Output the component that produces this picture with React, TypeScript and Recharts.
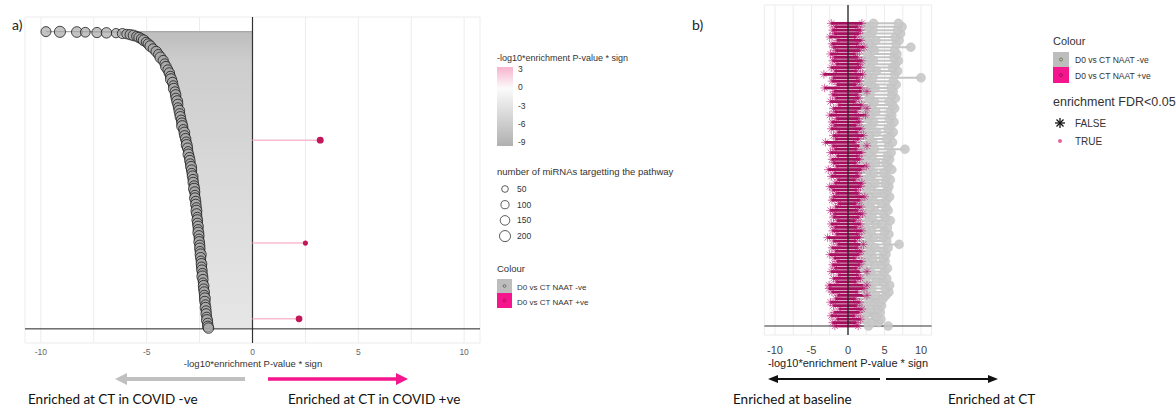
import React from 'react'
import {
  ComposedChart, ScatterChart, Area, Scatter, XAxis, YAxis, ZAxis,
  CartesianGrid, ReferenceLine, ErrorBar,
} from 'recharts'

// panel a: pathways ranked by enrichment (D0 vs CT NAAT -ve)
const rankA = [
  294.5, 294.3, 294.1, 293.9, 293.6, 293.3, 293.0, 292.6, 292.1, 291.5,
  290.7, 289.8, 288.7, 287.4, 285.9, 284.2, 282.3, 280.2, 277.6, 274.8,
  271.9, 268.9, 265.9, 262.8, 259.7, 256.6, 253.5, 250.4, 247.3, 244.2,
  241.1, 238.0, 234.9, 231.8, 228.7, 225.6, 222.5, 219.4, 216.3, 213.2,
  210.1, 207.0, 203.9, 200.8, 197.7, 194.6, 191.5, 188.4, 185.3, 182.2,
  179.1, 176.0, 172.9, 169.8, 166.7, 163.6, 160.5, 157.4, 154.3, 151.2,
  148.1, 145.0, 141.9, 138.8, 135.7, 132.6, 129.5, 126.4, 123.3, 120.2,
  117.1, 114.0, 110.9, 107.8, 104.7, 101.6, 98.5, 95.4, 92.3, 89.2,
  86.1, 83.0, 79.9, 76.8, 73.7, 70.6, 67.5, 64.4, 61.3, 58.2,
  55.1, 52.0, 48.9, 45.8, 42.7, 39.6, 36.5, 33.4, 30.3, 27.2,
  24.1, 21.0, 17.9, 14.8, 11.7, 8.6, 5.5, 2.4, 0.8,
]
const scoreA = [
  -9.76, -9.10, -8.30, -7.90, -7.35, -6.90, -6.45, -6.15, -5.95, -5.78,
  -5.62, -5.48, -5.36, -5.25, -5.14, -5.03, -4.93, -4.83, -4.70, -4.55,
  -4.44, -4.35, -4.22, -4.15, -4.09, -4.00, -3.93, -3.88, -3.85, -3.78,
  -3.74, -3.72, -3.66, -3.63, -3.62, -3.56, -3.53, -3.52, -3.46, -3.44,
  -3.41, -3.37, -3.34, -3.32, -3.27, -3.22, -3.21, -3.16, -3.13, -3.11,
  -3.07, -3.04, -3.03, -2.98, -2.96, -2.94, -2.90, -2.88, -2.87, -2.83,
  -2.81, -2.80, -2.76, -2.76, -2.73, -2.72, -2.72, -2.68, -2.68, -2.65,
  -2.65, -2.64, -2.61, -2.61, -2.60, -2.57, -2.57, -2.56, -2.53, -2.53,
  -2.52, -2.49, -2.49, -2.48, -2.45, -2.45, -2.44, -2.41, -2.41, -2.39,
  -2.37, -2.37, -2.34, -2.34, -2.31, -2.31, -2.28, -2.28, -2.25, -2.25,
  -2.22, -2.22, -2.19, -2.19, -2.16, -2.15, -2.12, -2.11, -2.08,
]
const mirnaA = [
  120, 170, 150, 110, 130, 140, 90, 120, 100, 130,
  150, 110, 140, 120, 160, 100, 130, 150, 110, 140,
  120, 160, 130, 100, 150, 120, 140, 110, 170, 130,
  100, 150, 120, 140, 110, 160, 130, 90, 150, 120,
  140, 110, 130, 170, 100, 150, 120, 140, 110, 160,
  130, 90, 150, 120, 140, 110, 160, 130, 100, 150,
  120, 140, 110, 170, 130, 100, 150, 120, 140, 110,
  160, 130, 90, 150, 120, 140, 110, 160, 130, 100,
  150, 120, 140, 110, 170, 130, 100, 150, 120, 140,
  110, 160, 130, 90, 150, 120, 140, 110, 160, 130,
  100, 150, 120, 140, 110, 170, 130, 150, 140,
]
// panel a: D0 vs CT NAAT +ve
const rankApos = [187, 85, 10]
const scoreApos = [3.2, 2.5, 2.2]
const mirnaApos = [60, 20, 55]

const ticksA = [-10, -7.5, -5, -2.5, 0, 2.5, 5, 7.5, 10]
const gridRankA = [0, 50, 100, 150, 200, 250, 300]

// panel b: one row per pathway, bottom to top
const greyOuterB = [
  5.5, 4.2, 4.5, 3.9, 4.4, 4.1, 4.6, 4.3, 4.8, 5.2,
  5.6, 5.1, 5.7, 4.9, 5.3, 4.6, 5.0, 5.4, 4.7, 5.1,
  4.8, 5.2, 4.9, 5.5, 7.0, 5.3, 4.8, 5.6, 5.0, 5.4,
  4.7, 5.8, 5.1, 4.9, 5.5, 5.2, 4.6, 5.3, 5.7, 5.0,
  5.4, 5.6, 5.1, 5.8, 5.3, 4.9, 6.0, 5.5, 5.2, 5.7,
  5.4, 5.9, 7.8, 5.6, 6.1, 5.3, 5.8, 6.2, 5.5, 5.9,
  6.3, 5.7, 6.0, 5.8, 6.4, 6.1, 5.7, 6.5, 6.0, 6.2,
  5.9, 6.6, 6.2, 10.0, 6.4, 6.8, 6.1, 6.5, 6.9, 6.3,
  6.7, 6.4, 8.6, 6.6, 7.0, 6.5, 7.2, 6.8, 7.4, 6.9,
]
const greyInnerB = [
  2.8, 3.4, 2.3, 3.7, 2.6, 3.1, 2.2, 3.5, 2.9, 3.8,
  2.5, 3.2, 2.7, 3.9, 2.4, 3.3, 3.0, 2.1, 3.6, 2.8,
  3.4, 2.6, 3.1, 3.7, 2.3, 3.0, 3.5, 2.7, 3.2, 2.4,
  3.8, 2.9, 3.3, 2.5, 3.6, 3.0, 2.2, 3.4, 2.8, 3.9,
  2.6, 3.2, 3.7, 2.4, 3.1, 3.5, 2.7, 3.0, 3.8, 2.5,
  3.3, 2.9, 3.6, 2.2, 3.4, 3.0, 2.8, 3.9, 2.6, 3.2,
  3.5, 2.7, 3.1, 3.8, 2.4, 3.3, 3.6, 2.9, 3.0, 2.5,
  3.7, 3.2, 2.8, 3.4, 2.6, 3.9, 3.1, 2.3, 3.5, 3.0,
  2.7, 3.6, 3.3, 2.9, 3.8, 2.5, 3.2, 3.4, 2.8, 3.5,
]
const pinkNegB = [
  -1.8, -2.1, -1.5, -2.3, -1.9, -1.2, -2.0, -2.4, -1.7, -1.4,
  -2.2, -2.6, -2.6, -1.6, -2.0, -1.3, -2.3, -1.8, -2.1, -1.5,
  -1.9, -2.5, -1.7, -2.2, -1.4, -2.0, -2.8, -1.6, -2.1, -1.8,
  -2.3, -1.5, -2.0, -1.9, -2.4, -1.7, -1.3, -2.2, -2.0, -1.6,
  -2.1, -2.5, -1.8, -1.4, -2.3, -1.9, -2.7, -1.6, -2.0, -2.2,
  -1.5, -2.4, -1.8, -2.1, -3.1, -1.7, -2.0, -1.4, -2.3, -1.9,
  -2.2, -1.6, -2.5, -1.8, -2.0, -1.3, -2.4, -1.7, -2.1, -1.9,
  -3.2, -1.5, -2.2, -2.0, -3.3, -1.8, -2.3, -1.6, -2.1, -1.9,
  -2.4, -1.7, -2.0, -2.2, -1.5, -2.5, -1.9, -2.1, -1.8, -2.3,
]
const pinkPosB = [
  1.4, 1.1, 1.7, 0.9, 1.5, 1.9, 1.2, 1.6, 1.0, 2.6,
  1.3, 2.2, 2.6, 1.1, 1.7, 1.4, 2.6, 1.2, 1.6, 1.9,
  1.0, 1.5, 1.8, 1.3, 2.1, 1.1, 1.6, 1.4, 1.9, 1.2,
  1.7, 1.0, 1.5, 2.0, 1.3, 1.8, 1.1, 1.6, 2.3, 1.4,
  1.2, 1.7, 1.9, 1.0, 1.5, 1.3, 1.8, 2.5, 1.1, 1.6,
  1.4, 1.9, 1.2, 2.6, 1.0, 1.5, 2.1, 1.3, 1.8, 1.1,
  1.6, 1.4, 2.4, 1.2, 2.6, 1.9, 1.0, 1.5, 1.3, 2.6,
  1.8, 1.1, 1.6, 1.4, 2.0, 1.2, 1.7, 1.5, 1.9, 1.3,
  1.0, 1.6, 2.2, 1.4, 1.8, 1.1, 1.5, 1.7, 1.3, 1.9,
]
const ticksB = [-10, -7.5, -5, -2.5, 0, 2.5, 5, 7.5, 10]
const gridRankB = [0, 15.3, 30.6, 45.9, 61.2, 76.5, 91.8]

const colourLegend = ['D0 vs CT NAAT -ve', 'D0 vs CT NAAT +ve']
const sizeLegend = [50, 100, 150, 200]
const fillLegend = ['3', '0', '-3', '-6', '-9']
const fdrLegend = ['FALSE', 'TRUE']

// stem from 0 to the value, as an asymmetric x error bar
const stem = (v: number) => (v < 0 ? [0, -v] : [v, 0])

const rowsA = scoreA.map((v, i) => ({ r: rankA[i], v, n: mirnaA[i] }))
const rowsApos = scoreApos.map((v, i) => ({ r: rankApos[i], v, n: mirnaApos[i], err: stem(v) }))
const rowsOuterB = greyOuterB.map((v, i) => ({ r: i, v, err: stem(v) }))
const rowsInnerB = greyInnerB.map((v, i) => ({ r: i, v, err: stem(v) }))
const rowsNegB = pinkNegB.map((v, i) => ({ r: i, v, err: stem(v) }))
const rowsPosB = pinkPosB.map((v, i) => ({ r: i, v, err: stem(v) }))

const GG = '"Liberation Sans", Arial, sans-serif'
const CAL = 'Lato, "Liberation Sans", sans-serif'
const tickLab = (v: number) => (v % 5 === 0 ? String(v) : '')

const Asterisk = (props: any) => {
  const { cx, cy } = props
  if (cx == null || cy == null) return null
  const s = 4.2
  const d = 3
  return (
    <g stroke="#b8126c" strokeWidth={1} strokeOpacity={0.6}>
      <line x1={cx - s} y1={cy} x2={cx + s} y2={cy} />
      <line x1={cx} y1={cy - s} x2={cx} y2={cy + s} />
      <line x1={cx - d} y1={cy - d} x2={cx + d} y2={cy + d} />
      <line x1={cx - d} y1={cy + d} x2={cx + d} y2={cy - d} />
    </g>
  )
}

function PanelA() {
  return (
    <ComposedChart
      width={490} height={408} layout="vertical" data={rowsA}
      margin={{ top: 17, right: 10, bottom: 35, left: 25 }}
      style={{ fontFamily: GG }}
    >
      <defs>
        <linearGradient id="stemFadeA" x1="0" y1="0" x2="0" y2="1">
          <stop offset="0%" stopColor="#bdbdbd" />
          <stop offset="10%" stopColor="#cdcdcd" />
          <stop offset="55%" stopColor="#dbdbdb" />
          <stop offset="100%" stopColor="#e6e6e6" />
        </linearGradient>
      </defs>
      <CartesianGrid stroke="#ececec" />
      <XAxis
        type="number" domain={[-10.75, 10.75]} ticks={ticksA} allowDataOverflow
        tickFormatter={tickLab} axisLine={false} tickLine={false}
        tickSize={0} tickMargin={6} height={30}
        tick={{ fontSize: 8.5, fill: '#666' }}
      />
      <YAxis
        type="number" dataKey="r" domain={[-14, 309]} ticks={gridRankA} allowDataOverflow
        reversed width={0} tick={false} axisLine={false} tickLine={false}
      />
      <ZAxis dataKey="n" range={[34, 98]} />
      <ZAxis zAxisId="pos" dataKey="n" range={[12, 38]} />
      <Area
        dataKey="v" type="linear" stroke="none" fill="url(#stemFadeA)"
        fillOpacity={1} isAnimationActive={false}
      />
      <ReferenceLine
        segment={[{ x: scoreA[0], y: rankA[0] }, { x: 0, y: rankA[0] }]}
        stroke="#a8a8a8" strokeWidth={1.2}
      />
      <ReferenceLine x={0} stroke="#333" strokeWidth={1.2} />
      <ReferenceLine y={0} stroke="#222" strokeWidth={1} />
      <Scatter
        dataKey="v" fill="#aaaaaa" fillOpacity={0.7}
        stroke="#151515" strokeOpacity={0.85} strokeWidth={0.9} isAnimationActive={false}
      />
      <Scatter
        data={rowsApos} dataKey="v" zAxisId="pos" fill="#c2185b"
        isAnimationActive={false}
      >
        <ErrorBar dataKey="err" direction="x" width={0} stroke="#f8bbd0" strokeWidth={1.5} />
      </Scatter>
    </ComposedChart>
  )
}

function PanelB() {
  return (
    <ScatterChart
      width={240} height={408}
      margin={{ top: 5, right: 8.4, bottom: 43, left: 64.4 }}
      style={{ fontFamily: GG }}
    >
      <CartesianGrid stroke="#ececec" />
      <XAxis
        type="number" dataKey="v" domain={[-11.45, 11.45]} ticks={ticksB} allowDataOverflow
        tickFormatter={tickLab} axisLine={false} tickLine={false}
        tickSize={0} tickMargin={11} height={30}
        tick={{ fontSize: 11, fill: '#444' }}
      />
      <YAxis
        type="number" dataKey="r" domain={[-2.65, 94.4]} ticks={gridRankB} allowDataOverflow
        width={0} tick={false} axisLine={false} tickLine={false}
      />
      <ZAxis range={[115, 115]} />
      <Scatter
        data={rowsInnerB} fill="#c8c8c8" fillOpacity={0.9}
        stroke="#b8b8b8" strokeOpacity={0.6} strokeWidth={0.6} isAnimationActive={false}
      >
        <ErrorBar dataKey="err" direction="x" width={0} stroke="#c4c4c4" strokeWidth={2} />
      </Scatter>
      <Scatter
        data={rowsOuterB} fill="#c8c8c8" fillOpacity={0.9}
        stroke="#b8b8b8" strokeOpacity={0.6} strokeWidth={0.6} isAnimationActive={false}
      >
        <ErrorBar dataKey="err" direction="x" width={0} stroke="#c4c4c4" strokeWidth={2} />
      </Scatter>
      <ReferenceLine y={0} stroke="#333" strokeWidth={1} />
      <Scatter data={rowsNegB} shape={<Asterisk />} isAnimationActive={false}>
        <ErrorBar dataKey="err" direction="x" width={0} stroke="#a3105c" strokeWidth={2.8} />
      </Scatter>
      <Scatter data={rowsPosB} shape={<Asterisk />} isAnimationActive={false}>
        <ErrorBar dataKey="err" direction="x" width={0} stroke="#a3105c" strokeWidth={2.8} />
      </Scatter>
      <ReferenceLine x={0} stroke="#222" strokeWidth={1.3} />
    </ScatterChart>
  )
}

function Notes() {
  return (
    <svg width={1176} height={408} style={{ position: 'absolute', left: 0, top: 0, pointerEvents: 'none' }}>
      <defs>
        <linearGradient id="legendFill" x1="0" y1="0" x2="0" y2="1">
          <stop offset="0%" stopColor="#f7b3cd" />
          <stop offset="27%" stopColor="#fbfbfb" />
          <stop offset="100%" stopColor="#b0b0b0" />
        </linearGradient>
      </defs>

      <text x={12} y={30} fontFamily={CAL} fontSize={14} fill="#222">a)</text>
      <text x={692} y={30} fontFamily={CAL} fontSize={14} fill="#222">b)</text>

      {/* axis titles */}
      <text x={253} y={367} textAnchor="middle" fontFamily={GG} fontSize={9.5} fill="#333">
        -log10*enrichment P-value * sign
      </text>
      <text x={848} y={367} textAnchor="middle" fontFamily={GG} fontSize={11} fill="#222">
        -log10*enrichment P-value * sign
      </text>

      {/* panel a legend */}
      <g fontFamily={GG} fill="#333">
        <text x={497} y={61} fontSize={9}>-log10*enrichment P-value * sign</text>
        <rect x={497} y={67} width={16} height={79} fill="url(#legendFill)" />
        {fillLegend.map((t, i) => (
          <text key={t} x={518} y={72 + i * 18.3} fontSize={8.5}>{t}</text>
        ))}
        <text x={497} y={175} fontSize={9.5}>number of miRNAs targetting the pathway</text>
        {sizeLegend.map((n, i) => (
          <g key={n}>
            <circle cx={505} cy={189 + i * 15.7} r={2.6 + n / 68} fill="#fff" stroke="#333" strokeWidth={0.8} />
            <text x={517} y={192 + i * 15.7} fontSize={8.5}>{n}</text>
          </g>
        ))}
        <text x={497} y={272} fontSize={9.5}>Colour</text>
        <rect x={497} y={279} width={15} height={14} fill="#bdbdbd" />
        <circle cx={504.5} cy={286} r={1.4} fill="none" stroke="#444" strokeWidth={0.6} />
        <rect x={497} y={293} width={15} height={15} fill="#f5158c" />
        <circle cx={504.5} cy={300.5} r={1.4} fill="none" stroke="#8a0f4c" strokeWidth={0.6} />
        {colourLegend.map((t, i) => (
          <text key={t} x={517} y={290 + i * 15} fontSize={8}>{t}</text>
        ))}
      </g>

      {/* panel b legend */}
      <g fontFamily={GG} fill="#333">
        <text x={1053} y={45} fontSize={11}>Colour</text>
        <rect x={1053} y={52} width={16} height={15} fill="#bdbdbd" />
        <circle cx={1061} cy={59.5} r={1.5} fill="none" stroke="#4a6a2a" strokeWidth={0.7} />
        <rect x={1053} y={67} width={16} height={16} fill="#f5158c" />
        <circle cx={1061} cy={75} r={1.5} fill="none" stroke="#8a0f4c" strokeWidth={0.7} />
        {colourLegend.map((t, i) => (
          <text key={t} x={1075} y={63 + i * 16} fontSize={8.5}>{t}</text>
        ))}
        <text x={1053} y={106} fontSize={12.5}>enrichment FDR&lt;0.05</text>
        <g stroke="#111" strokeWidth={1.3}>
          <line x1={1055} y1={123} x2={1065} y2={123} />
          <line x1={1060} y1={118} x2={1060} y2={128} />
          <line x1={1056.5} y1={119.5} x2={1063.5} y2={126.5} />
          <line x1={1056.5} y1={126.5} x2={1063.5} y2={119.5} />
        </g>
        <circle cx={1060} cy={141} r={2} fill="#e0679a" />
        {fdrLegend.map((t, i) => (
          <text key={t} x={1075} y={127 + i * 18} fontSize={10}>{t}</text>
        ))}
      </g>

      {/* direction arrows */}
      <line x1={245} y1={379} x2={125} y2={379} stroke="#c0c0c0" strokeWidth={4} />
      <polygon points="115,379 127,373 127,385" fill="#c0c0c0" />
      <line x1={268} y1={379} x2={397} y2={379} stroke="#f5158c" strokeWidth={3.5} />
      <polygon points="408,379 396,373 396,385" fill="#f5158c" />
      <line x1={880} y1={379} x2={776} y2={379} stroke="#111" strokeWidth={2} />
      <polygon points="768,379 778,375 778,383" fill="#111" />
      <line x1={886} y1={379} x2={990} y2={379} stroke="#111" strokeWidth={2} />
      <polygon points="998,379 988,375 988,383" fill="#111" />

      <g fontFamily={CAL} fontSize={13.5} fill="#111">
        <text x={28} y={404}>Enriched at CT in COVID -ve</text>
        <text x={288} y={404}>Enriched at CT in COVID +ve</text>
        <text x={733} y={404}>Enriched at baseline</text>
        <text x={948} y={404}>Enriched at CT</text>
      </g>
    </svg>
  )
}

export default function App() {
  return (
    <div style={{ position: 'absolute', left: 0, top: 0, width: 1176, height: 408, background: '#fff', overflow: 'hidden' }}>
      <div style={{ position: 'absolute', left: 0, top: 0 }}>
        <PanelA />
      </div>
      <div style={{ position: 'absolute', left: 700, top: 0 }}>
        <PanelB />
      </div>
      <Notes />
    </div>
  )
}
